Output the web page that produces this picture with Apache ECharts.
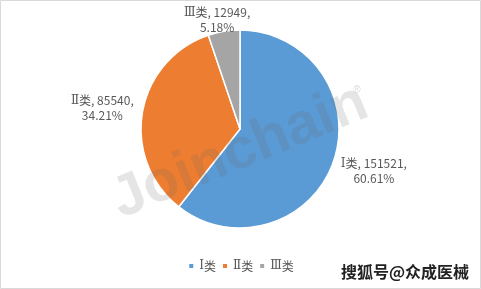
<!DOCTYPE html>
<html><head><meta charset="utf-8">
<script src="https://cdn.jsdelivr.net/npm/echarts@6/dist/echarts.min.js"></script>
<style>html,body{margin:0;padding:0;background:#fff}#c{width:481px;height:289px}</style>
</head><body><div id="c"></div>
<script>
const numerals = ['Ⅰ', 'Ⅱ', 'Ⅲ'];
const categories = ['Ⅰ类', 'Ⅱ类', 'Ⅲ类'];
const values = [151521, 85540, 12949];
const percents = ['60.61%', '34.21%', '5.18%'];
const colors = ['#5B9BD5', '#ED7D31', '#A5A5A5'];
const labelDx = [7, -11, 3];
const labelDy = [0, 1, 4];

const numFont = '"DejaVu Serif", "DejaVu Sans", serif';
const txtFont = '"Noto Sans CJK SC"';

const chart = echarts.init(document.getElementById('c'));
chart.setOption({
  animation: false,
  backgroundColor: '#fff',
  color: colors,
  legend: {
    data: categories,
    bottom: 12,
    left: 'center',
    icon: 'rect',
    itemWidth: 6,
    itemHeight: 6,
    itemGap: 5,
    formatter: name => {
      const i = categories.indexOf(name);
      return '{n|' + numerals[i] + '}{a|类}';
    },
    textStyle: {
      fontSize: 12, color: '#595959', fontFamily: txtFont,
      rich: {
        n: { fontSize: 12, color: '#595959', fontFamily: numFont },
        a: { fontSize: 12, color: '#595959', fontFamily: txtFont }
      }
    }
  },
  graphic: [
    { type: 'rect', shape: { x: 0.5, y: 0.5, width: 480, height: 288 }, style: { fill: 'none', stroke: '#d9d9d9', lineWidth: 1 }, z: 0 },
    { type: 'text', x: 240, y: 152, rotation: 0.39, z: 100,
      style: { text: 'Joinchain', font: 'bold 58px Arial, "Liberation Sans"', fill: 'rgba(100,100,100,0.17)', textAlign: 'center', textVerticalAlign: 'middle' } },
    { type: 'text', x: 357, y: 90, z: 100,
      style: { text: '®', font: '10px Arial', fill: 'rgba(100,100,100,0.25)', textAlign: 'center', textVerticalAlign: 'middle' } },
    { type: 'text', x: 405, y: 272, z: 100,
      style: { text: '搜狐号@众成医械', font: 'bold 16px "Noto Sans CJK SC"', fill: '#222', stroke: '#fff', lineWidth: 2, textAlign: 'center', textVerticalAlign: 'middle' } }
  ],
  series: [{
    type: 'pie',
    center: [240, 129],
    radius: [0, 99],
    startAngle: 90,
    clockwise: true,
    itemStyle: { borderColor: '#fff', borderWidth: 1.5 },
    label: {
      show: true,
      position: 'outside',
      formatter: p => '{n|' + numerals[p.dataIndex] + '}{a|类, ' + values[p.dataIndex] + ',}\n{a|' + percents[p.dataIndex] + '}',
      rich: {
        n: { fontSize: 12, lineHeight: 15, color: '#595959', fontFamily: numFont },
        a: { fontSize: 12, lineHeight: 15, color: '#595959', fontFamily: txtFont }
      },
      fontSize: 12,
      lineHeight: 15,
      color: '#595959',
      fontFamily: txtFont
    },
    labelLine: { show: false, length: 30, length2: 0 },
    labelLayout: p => ({ dx: labelDx[p.dataIndex], dy: labelDy[p.dataIndex], align: 'center' }),
    data: categories.map((c, i) => ({ name: c, value: values[i] }))
  }]
});
</script></body></html>
